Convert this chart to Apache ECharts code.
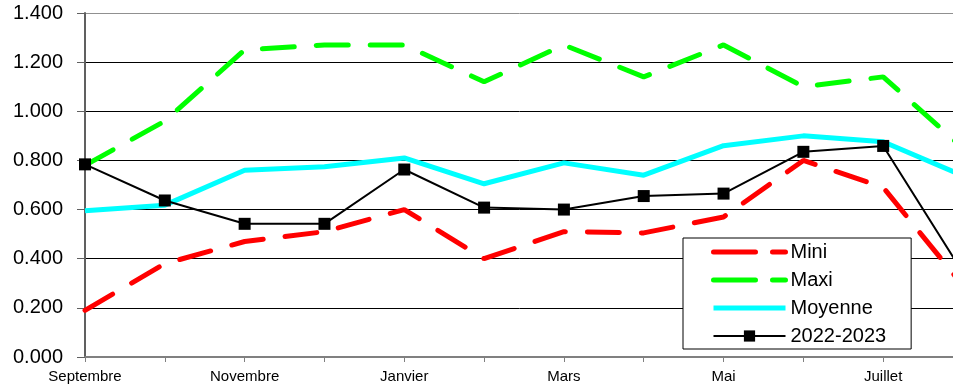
<!DOCTYPE html>
<html>
<head>
<meta charset="utf-8">
<script src="https://cdn.jsdelivr.net/npm/echarts@6/dist/echarts.min.js"></script>
<style>
  html, body { margin: 0; padding: 0; background: #fff; overflow: hidden; }
  #chart { width: 953px; height: 389px; }
</style>
</head>
<body>
<div id="chart"></div>
<script>
// mois de la campagne
const months = ['Septembre', 'Octobre', 'Novembre', 'Décembre', 'Janvier', 'Février',
  'Mars', 'Avril', 'Mai', 'Juin', 'Juillet', 'Août']
// valeurs
const mini = [0.19, 0.38, 0.47, 0.51, 0.60, 0.40, 0.51, 0.505, 0.57, 0.80, 0.69, 0.29]
const maxi = [0.78, 0.96, 1.25, 1.27, 1.27, 1.12, 1.27, 1.14, 1.27, 1.10, 1.14, 0.85]
const moyenne = [0.595, 0.618, 0.76, 0.774, 0.81, 0.705, 0.79, 0.74, 0.86, 0.90, 0.876, 0.738]
const campagne = [0.784, 0.637, 0.542, 0.542, 0.763, 0.608, 0.60, 0.655, 0.665, 0.835, 0.859, 0.343]

const FONT = '"Liberation Sans", Arial, sans-serif'
const DASH = [32, 22]
// icône de légende : trait seul, sans symbole
const noSymbol = { opacity: 0 }

const chart = echarts.init(document.getElementById('chart'))
chart.setOption({
  animation: false,
  textStyle: { fontFamily: FONT },
  // la dernière valeur (Août) tombe juste hors du cadre, comme sur l'original
  grid: { left: 85, width: 878, top: 13, bottom: 32, outerBoundsMode: 'none', containLabel: false },
  legend: {
    orient: 'vertical',
    left: 683,
    top: 238,
    padding: [4, 25, 3, 28],
    itemWidth: 72,
    itemHeight: 14,
    itemGap: 8,
    backgroundColor: '#fff',
    borderColor: '#000',
    borderWidth: 1,
    textStyle: { fontFamily: FONT, fontSize: 20, lineHeight: 20, color: '#000' },
    data: [
      { name: 'Mini', itemStyle: noSymbol, lineStyle: { width: 5, type: [42, 17], cap: 'round' } },
      { name: 'Maxi', itemStyle: noSymbol, lineStyle: { width: 5, type: [42, 17], cap: 'round' } },
      { name: 'Moyenne', itemStyle: noSymbol, lineStyle: { width: 5 } },
      { name: '2022-2023', lineStyle: { width: 2 } }
    ]
  },
  xAxis: {
    type: 'category',
    data: months,
    boundaryGap: false,
    axisLine: { lineStyle: { color: '#808080', width: 2 } },
    axisTick: { interval: 0, length: 5, lineStyle: { color: '#808080' } },
    axisLabel: { interval: 1, fontSize: 15, color: '#000', margin: 12, fontFamily: FONT }
  },
  yAxis: {
    type: 'value',
    min: 0,
    max: 1.4,
    interval: 0.2,
    axisLine: { show: true, lineStyle: { color: '#606060', width: 2 } },
    axisTick: { show: true, length: 8, lineStyle: { color: '#606060' } },
    axisLabel: {
      fontSize: 20, color: '#000', margin: 22, fontFamily: FONT,
      formatter: v => v.toFixed(3)
    },
    splitLine: {
      lineStyle: {
        color: ['#808080', '#000', '#000', '#000', '#000', '#000', '#000', '#909090'],
        width: 1
      }
    }
  },
  series: [
    {
      name: 'Mini', type: 'line', data: mini, symbol: 'none', z: 2,
      lineStyle: { color: '#ff0000', width: 5, type: DASH, cap: 'round' },
      itemStyle: { color: '#ff0000' }
    },
    {
      name: 'Maxi', type: 'line', data: maxi, symbol: 'none', z: 2,
      lineStyle: { color: '#00ff00', width: 5, type: DASH, cap: 'round' },
      itemStyle: { color: '#00ff00' }
    },
    {
      name: 'Moyenne', type: 'line', data: moyenne, symbol: 'none', z: 3,
      lineStyle: { color: '#00ffff', width: 5 },
      itemStyle: { color: '#00ffff' }
    },
    {
      name: '2022-2023', type: 'line', data: campagne, z: 4,
      symbol: 'rect', symbolSize: 12,
      lineStyle: { color: '#000', width: 2 },
      itemStyle: { color: '#000' }
    }
  ]
})
</script>
</body>
</html>
